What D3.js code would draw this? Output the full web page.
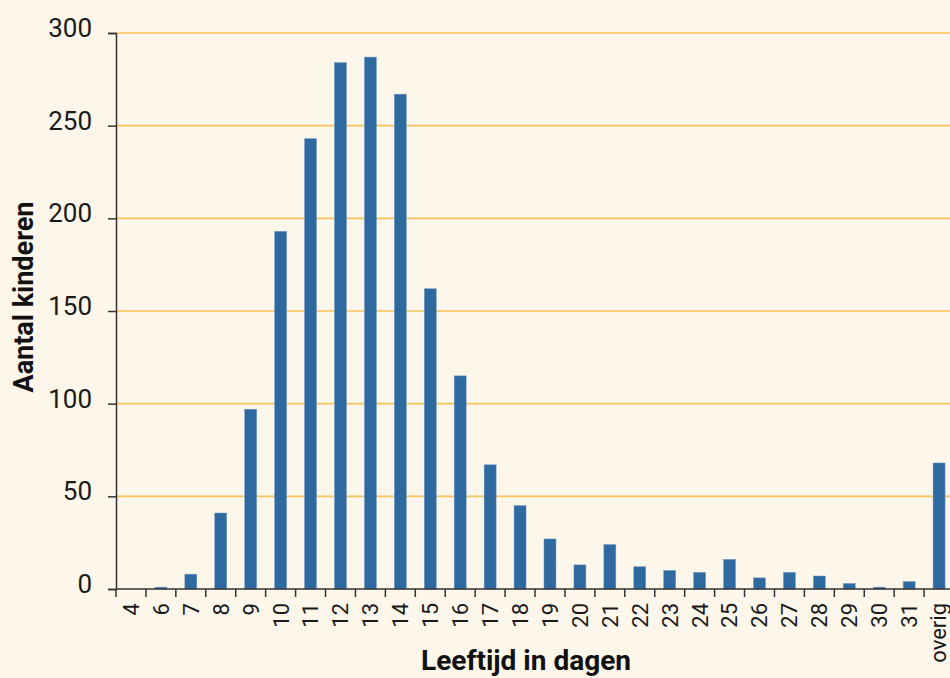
<!DOCTYPE html>
<html>
<head>
<meta charset="utf-8">
<script src="https://cdn.jsdelivr.net/npm/d3@7"></script>
<style>
  html, body { margin: 0; padding: 0; background: #fdf6ea; }
  svg { display: block; }
</style>
</head>
<body>
<svg id="chart" width="950" height="678"></svg>
<script>
// Leeftijd (dagen) bij de hielprik en aantal kinderen per dag
const categories = ["4","6","7","8","9","10","11","12","13","14","15","16","17","18","19",
  "20","21","22","23","24","25","26","27","28","29","30","31","overig"];
const counts = [0, 1, 8, 41, 97, 193, 243, 284, 287, 267, 162, 115, 67, 45, 27,
  13, 24, 12, 10, 9, 16, 6, 9, 7, 3, 1, 4, 68];
const yTicks = [0, 50, 100, 150, 200, 250, 300];

const data = categories.map((c, i) => ({ cat: c, value: counts[i] }));

const svg = d3.select("#chart");
const margin = { left: 116, top: 33, bottom: 89 };
const bandW = 29.93;
const plotW = bandW * categories.length;
const plotH = 678 - margin.top - margin.bottom;

const x = d3.scaleBand()
  .domain(categories)
  .range([margin.left, margin.left + plotW])
  .paddingInner(0.6)
  .paddingOuter(0.3);

const y = d3.scaleLinear()
  .domain([0, 300])
  .range([margin.top + plotH, margin.top]);

const fontFam = "Roboto, 'Liberation Sans', sans-serif";

// horizontal gridlines
svg.append("g")
  .selectAll("line")
  .data(yTicks.filter(d => d > 0))
  .join("line")
  .attr("x1", margin.left)
  .attr("x2", 950)
  .attr("y1", d => y(d))
  .attr("y2", d => y(d))
  .attr("stroke", "#f8c25c")
  .attr("stroke-width", 1.6);

// bars
svg.append("g")
  .selectAll("rect")
  .data(data)
  .join("rect")
  .attr("x", d => x(d.cat))
  .attr("width", x.bandwidth())
  .attr("y", d => y(d.value))
  .attr("height", d => y(0) - y(d.value))
  .attr("fill", "#2e69a0")
  .attr("stroke", "#6f9ac4")
  .attr("stroke-width", 0.5);

// y axis
const yAxis = d3.axisLeft(y)
  .tickValues(yTicks)
  .tickSize(8)
  .tickPadding(16)
  .tickFormat(d3.format("d"));

const gy = svg.append("g")
  .attr("transform", `translate(${margin.left},0)`)
  .call(yAxis);
gy.select(".domain").attr("stroke", "#333").attr("stroke-width", 1.5);
gy.selectAll(".tick line").attr("stroke", "#333").attr("stroke-width", 1.5);
gy.selectAll(".tick text")
  .attr("font-family", fontFam)
  .attr("font-size", 26)
  .attr("fill", "#1a1a1a")
  .attr("dy", "0.14em");

// x axis: ticks at band boundaries, labels rotated at band centres
const xBase = y(0);
const gx = svg.append("g");
gx.append("line")
  .attr("x1", margin.left)
  .attr("x2", 950)
  .attr("y1", xBase)
  .attr("y2", xBase)
  .attr("stroke", "#333")
  .attr("stroke-width", 1.5);

const boundaries = categories.map(c => x(c) - x.step() * x.paddingInner() / 2);
gx.selectAll("line.tick")
  .data(boundaries)
  .join("line")
  .attr("class", "tick")
  .attr("x1", d => d)
  .attr("x2", d => d)
  .attr("y1", xBase)
  .attr("y2", xBase + 8)
  .attr("stroke", "#333")
  .attr("stroke-width", 1.5);

gx.selectAll("text")
  .data(categories)
  .join("text")
  .attr("transform", d => `translate(${Math.min(x(d) + x.bandwidth() / 2, 938)},${xBase + 14}) rotate(-90)`)
  .attr("text-anchor", "end")
  .attr("dy", "0.36em")
  .attr("font-family", fontFam)
  .attr("font-size", 22)
  .attr("fill", "#1a1a1a")
  .text(d => d);

// axis titles
svg.append("text")
  .attr("x", 526)
  .attr("y", 670)
  .attr("text-anchor", "middle")
  .attr("font-family", fontFam)
  .attr("font-weight", "bold")
  .attr("font-size", 28)
  .attr("fill", "#111")
  .text("Leeftijd in dagen");

svg.append("text")
  .attr("transform", "translate(33,297) rotate(-90)")
  .attr("text-anchor", "middle")
  .attr("font-family", fontFam)
  .attr("font-weight", "bold")
  .attr("font-size", 27)
  .attr("fill", "#111")
  .text("Aantal kinderen");
</script>
</body>
</html>
